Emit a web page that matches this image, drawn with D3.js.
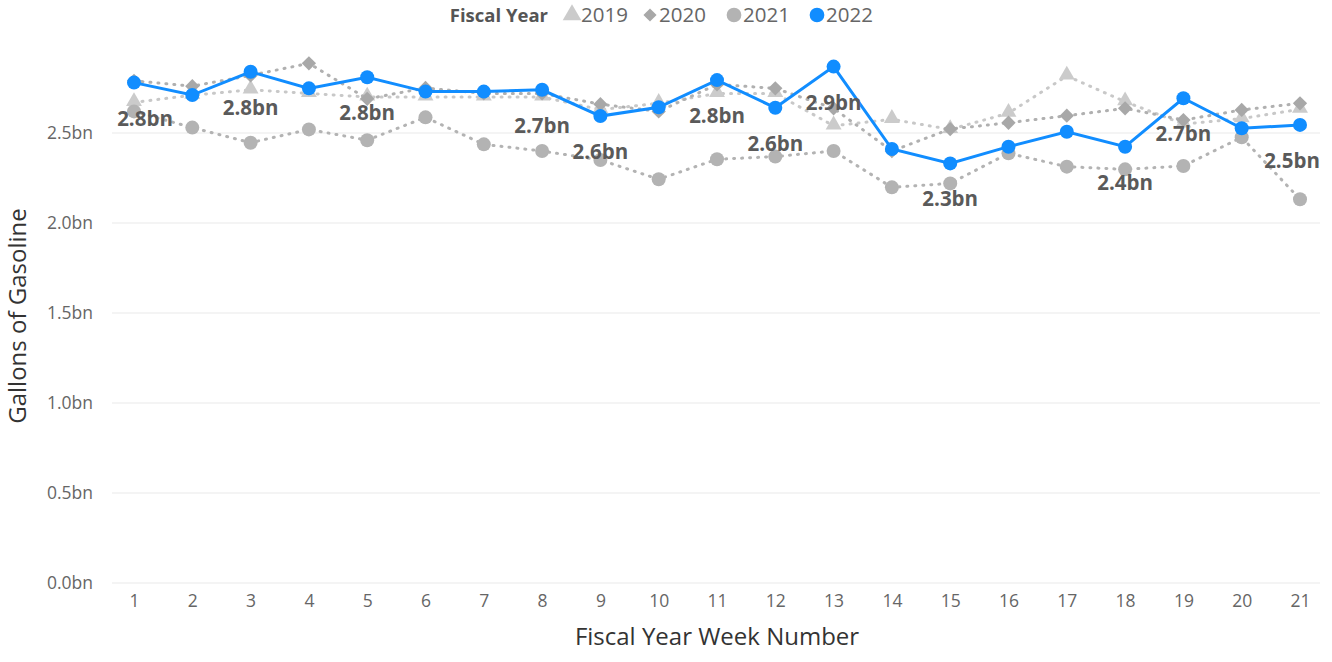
<!DOCTYPE html>
<html>
<head>
<meta charset="utf-8">
<script src="https://cdn.jsdelivr.net/npm/d3@7"></script>
<style>
  body { margin: 0; background: #fff; }
  svg { display: block; font-family: "Open Sans", "Noto Sans", sans-serif; }
</style>
</head>
<body>
<div id="chart"></div>
<script>
// data (gallons, billions) per fiscal year week
var weeks = [1,2,3,4,5,6,7,8,9,10,11,12,13,14,15,16,17,18,19,20,21];
var fy2019 = [2.67,2.71,2.74,2.72,2.70,2.70,2.70,2.70,2.63,2.665,2.72,2.72,2.54,2.576,2.52,2.61,2.817,2.674,2.55,2.58,2.632];
var fy2020 = [2.79,2.76,2.82,2.887,2.69,2.75,2.72,2.72,2.66,2.62,2.77,2.748,2.637,2.40,2.522,2.557,2.596,2.637,2.572,2.628,2.665];
var fy2021 = [2.62,2.53,2.446,2.52,2.46,2.587,2.437,2.40,2.35,2.243,2.354,2.369,2.40,2.198,2.22,2.387,2.313,2.298,2.317,2.476,2.132];
var fy2022 = [2.78,2.711,2.84,2.748,2.81,2.73,2.73,2.74,2.594,2.643,2.794,2.64,2.869,2.411,2.331,2.424,2.507,2.424,2.693,2.526,2.545];
var labelWeeks = [1,3,5,8,9,11,12,13,15,18,19,21];
var yTicks = [0,0.5,1.0,1.5,2.0,2.5];
var legendNames = ["2019","2020","2021","2022"];

var W = 1332, H = 662;
var svg = d3.select("#chart").append("svg").attr("width", W).attr("height", H);

var x = d3.scaleLinear().domain([1,21]).range([134,1300]);
var y = d3.scaleLinear().domain([0,3]).range([583,43]);

//gridlines
svg.append("g").selectAll("line").data(yTicks).enter().append("line")
  .attr("x1",112).attr("x2",1320)
  .attr("y1",function(d){ return y(d); }).attr("y2",function(d){ return y(d); })
  .attr("stroke","#f0f0f0").attr("stroke-width",1.5);

//y axis labels
var yAxis = d3.axisLeft(y).tickValues(yTicks).tickSize(0).tickPadding(0)
  .tickFormat(function(d){ return d3.format(".1f")(d) + "bn"; });
var yg = svg.append("g").attr("transform","translate(93,0)").call(yAxis);
yg.select(".domain").remove();
yg.selectAll("text").attr("fill","#666").attr("font-size",17.5).attr("font-family","Open Sans, sans-serif");

//x axis labels
var xAxis = d3.axisBottom(x).tickValues(weeks).tickSize(0).tickPadding(0).tickFormat(d3.format("d"));
var xg = svg.append("g").attr("transform","translate(0,595)").call(xAxis);
xg.select(".domain").remove();
xg.selectAll("text").attr("fill","#666").attr("font-size",17.5).attr("font-family","Open Sans, sans-serif");

//axis titles
svg.append("text").attr("x",717).attr("y",645).attr("text-anchor","middle")
  .attr("font-size",24).attr("fill","#333").text("Fiscal Year Week Number");
svg.append("text").attr("transform","translate(26,316) rotate(-90)").attr("text-anchor","middle")
  .attr("font-size",24).attr("fill","#333").text("Gallons of Gasoline");

var line = d3.line().x(function(d,i){ return x(weeks[i]); }).y(function(d){ return y(d); });

function dotted(vals, color){
  svg.append("path").datum(vals).attr("d",line).attr("fill","none")
    .attr("stroke",color).attr("stroke-width",3)
    .attr("stroke-linecap","round").attr("stroke-dasharray","1 7");
}

dotted(fy2019,"#c8c8c8");
svg.append("g").selectAll("path").data(fy2019).enter().append("path")
  .attr("d", d3.symbol().type(d3.symbolTriangle).size(110))
  .attr("transform",function(d,i){ return "translate("+x(weeks[i])+","+(y(d)-1)+")"; })
  .attr("fill","#cbcbcb");

dotted(fy2020,"#b0b0b0");
svg.append("g").selectAll("path").data(fy2020).enter().append("path")
  .attr("d", d3.symbol().type(d3.symbolDiamond2).size(130))
  .attr("transform",function(d,i){ return "translate("+x(weeks[i])+","+y(d)+")"; })
  .attr("fill","#a8a8a8");

dotted(fy2021,"#b3b3b3");
svg.append("g").selectAll("circle").data(fy2021).enter().append("circle")
  .attr("cx",function(d,i){ return x(weeks[i]); }).attr("cy",function(d){ return y(d); })
  .attr("r",7).attr("fill","#b3b3b3");

svg.append("path").datum(fy2022).attr("d",line).attr("fill","none")
  .attr("stroke","#118dff").attr("stroke-width",3);
svg.append("g").selectAll("circle").data(fy2022).enter().append("circle")
  .attr("cx",function(d,i){ return x(weeks[i]); }).attr("cy",function(d){ return y(d); })
  .attr("r",7).attr("fill","#118dff");

//data labels
svg.append("g").selectAll("text").data(labelWeeks).enter().append("text")
  .attr("x",function(w){ return Math.max(145, Math.min(1292, x(w))); })
  .attr("y",function(w){ return y(fy2022[w-1]) + 43; })
  .attr("text-anchor","middle").attr("font-size",20.5).attr("font-weight","bold")
  .attr("fill","#5a5a5a")
  .text(function(w){ return d3.format(".1f")(fy2022[w-1]) + "bn"; });

//legend
var lg = svg.append("g").attr("transform","translate(0,15)");
lg.append("text").attr("x",548).attr("y",6.5).attr("text-anchor","end")
  .attr("font-size",18.5).attr("font-weight","bold").attr("fill","#555").text("Fiscal Year");
var legX = [572,650,734,817];
var legShapes = [d3.symbolTriangle, d3.symbolDiamond2, d3.symbolCircle, d3.symbolCircle];
var legColors = ["#cbcbcb","#a8a8a8","#b3b3b3","#118dff"];
var legSizes = [150,110,170,170];
legendNames.forEach(function(n,i){
  lg.append("path").attr("d", d3.symbol().type(legShapes[i]).size(legSizes[i]))
    .attr("transform","translate("+legX[i]+",0)").attr("fill",legColors[i]);
  lg.append("text").attr("x",legX[i]+9).attr("y",7).attr("font-size",20.5).attr("fill","#666").text(n);
});
</script>
</body>
</html>
